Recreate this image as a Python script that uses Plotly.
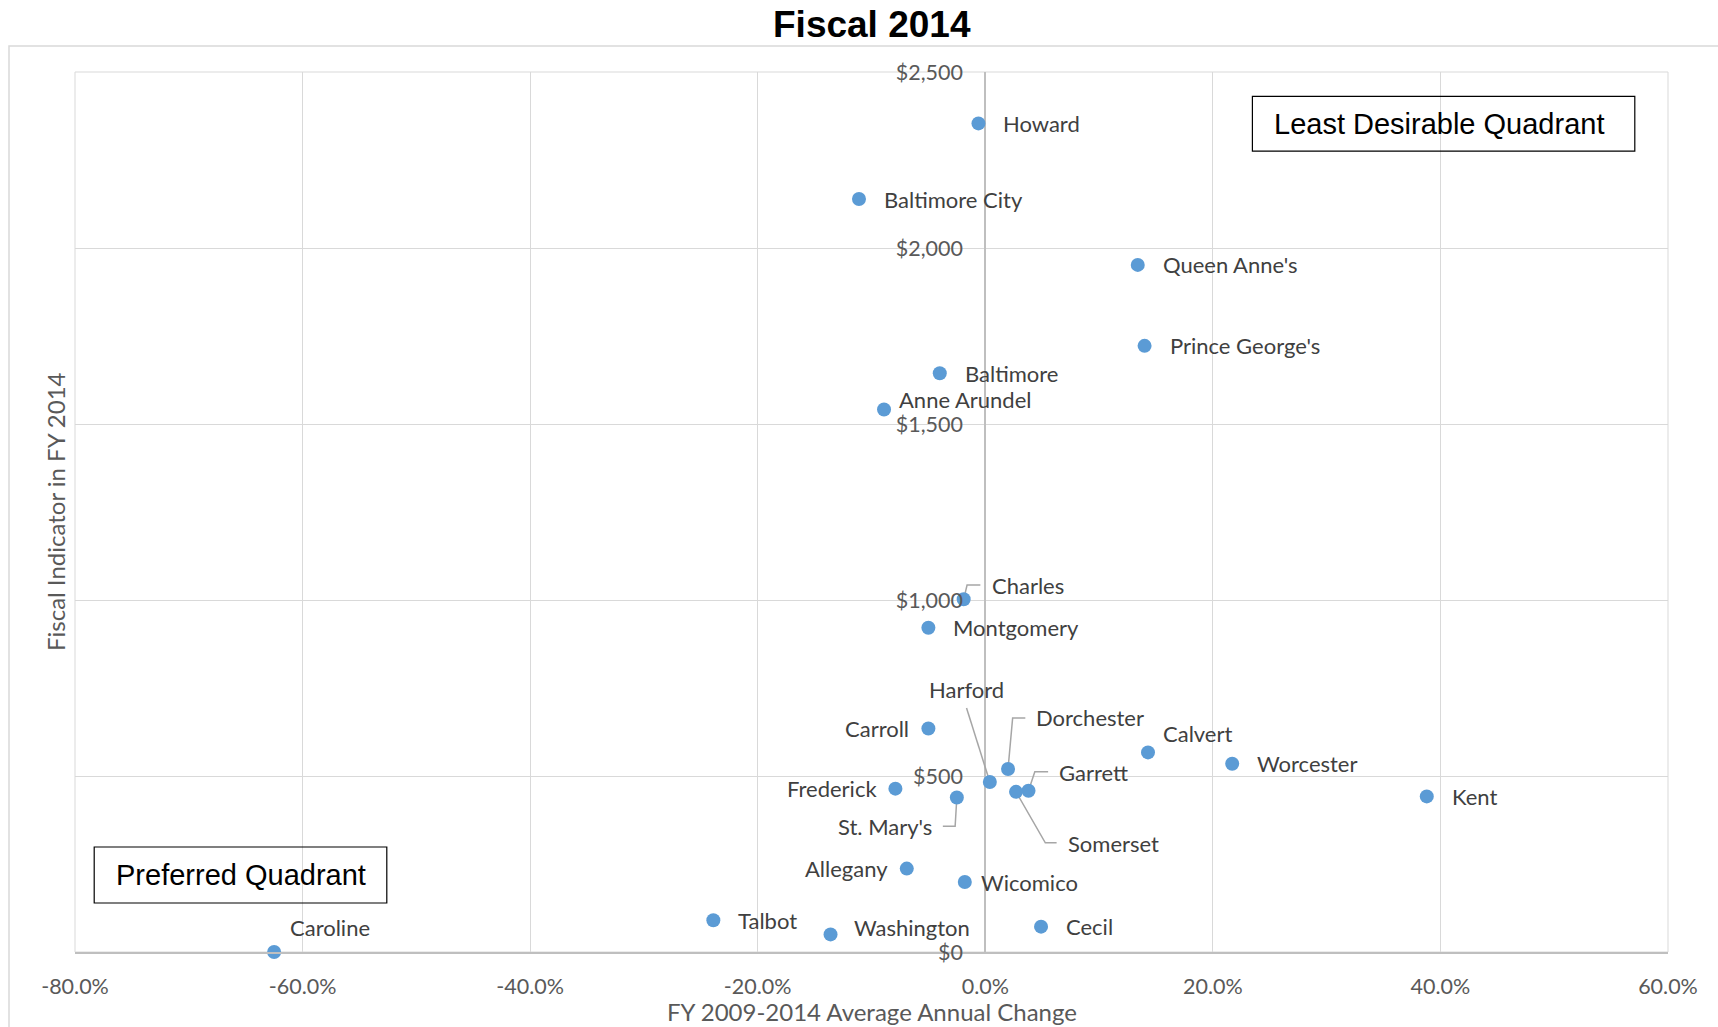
import plotly.graph_objects as go

# ---------------- data ----------------
counties = ["Howard", "Baltimore City", "Queen Anne's", "Prince George's", "Baltimore",
            "Anne Arundel", "Charles", "Montgomery", "Carroll", "Calvert", "Worcester",
            "Dorchester", "Harford", "Garrett", "Somerset", "Frederick", "St. Mary's",
            "Kent", "Allegany", "Wicomico", "Talbot", "Washington", "Cecil", "Caroline"]
avg_change = [-0.6, -11.1, 13.4, 14.0, -4.0, -8.9, -1.9, -5.0, -5.0, 14.3, 21.7,
              2.0, 0.4, 3.8, 2.7, -7.9, -2.5, 38.8, -6.9, -1.8, -23.9, -13.6, 4.9, -62.5]
indicator = [2354, 2139, 1952, 1722, 1644, 1541, 1002, 921, 635, 567, 535,
             520, 483, 458, 455, 464, 439, 442, 237, 199, 90, 50, 72, 0]

x_tickvals = [-80, -60, -40, -20, 0, 20, 40, 60]
x_ticktext = ["-80.0%", "-60.0%", "-40.0%", "-20.0%", "0.0%", "20.0%", "40.0%", "60.0%"]
y_tickvals = [0, 500, 1000, 1500, 2000, 2500]
y_ticktext = ["$0", "$500", "$1,000", "$1,500", "$2,000", "$2,500"]

# ---------------- layout geometry / styles ----------------
W, H = 1718, 1027
ML, MR, MT, MB = 75, 50, 72, 75
PW, PH = W - ML - MR, H - MT - MB
XR, YR = (-80, 60), (0, 2500)
sx = PW / (XR[1] - XR[0])   # px per %
sy = PH / (YR[1] - YR[0])   # px per $

FAM = "Lato, 'Open Sans', sans-serif"
LABEL_FONT = dict(family=FAM, size=22, color="#404040")
TICK_FONT = dict(family=FAM, size=21.5, color="#595959")
AXTITLE_FONT = dict(family=FAM, size=24, color="#595959")

# label placement: (xshift px, yshift px (up), xanchor)
default_place = (23, 0, "left")
place = {
    "Anne Arundel": (13, 10, "left"),
    "Carroll": (-17, 0, "right"),
    "Calvert": (13, 19, "left"),
    "Frederick": (-16, 0, "right"),
    "Allegany": (-17, 0, "right"),
    "Wicomico": (14, -1, "left"),
    "Washington": (21, 7, "left"),
    "Caroline": (14, 25, "left"),
    "Charles": (26, 14, "left"),
    "Dorchester": (26, 51, "left"),
    "Harford": (-23, 92, "center"),
    "Garrett": (28, 18, "left"),
    "Somerset": (50, -52, "left"),
    "St. Mary's": (-23, -29, "right"),
}
# leader line vertices in screen px offsets (x right, y down) from the point
leaders = {
    "Charles": [(3.4, -14.3), (16.7, -14.3)],
    "Dorchester": [(4.6, -51), (17.3, -51)],
    "Harford": [(-23.3, -74)],
    "Garrett": [(6.3, -19), (19.6, -19)],
    "Somerset": [(29.3, 51), (40.6, 51)],
    "St. Mary's": [(-1.7, 28.7), (-14, 28.7)],
}

fig = go.Figure()

# leader lines
lx, ly = [], []
for name, pts in leaders.items():
    i = counties.index(name)
    x0, y0 = avg_change[i], indicator[i]
    lx.append(x0); ly.append(y0)
    for dx, dy in pts:
        lx.append(x0 + dx / sx)
        ly.append(y0 - dy / sy)
    lx.append(None); ly.append(None)
fig.add_trace(go.Scatter(x=lx, y=ly, mode="lines", line=dict(color="#a6a6a6", width=1.5),
                         hoverinfo="skip", showlegend=False, cliponaxis=False))

fig.add_trace(go.Scatter(x=avg_change, y=indicator, mode="markers", text=counties,
                         marker=dict(size=14, color="#5b9bd5"),
                         showlegend=False, cliponaxis=False))

annotations = []
for name, xv, yv in zip(counties, avg_change, indicator):
    xs, ys, xa = place.get(name, default_place)
    annotations.append(dict(x=xv, y=yv, xref="x", yref="y", text=name, showarrow=False,
                            xshift=xs, yshift=ys, xanchor=xa, yanchor="middle",
                            font=LABEL_FONT))

def px_x(p):
    return (p - ML) / PW

def px_y(p):
    return (H - MB - p) / PH

# titles
annotations.append(dict(x=0.5, y=px_y(24), xref="paper", yref="paper", text="<b>Fiscal 2014</b>",
                        showarrow=False, xanchor="center", yanchor="middle",
                        font=dict(family="Liberation Sans, Arial, sans-serif", size=37, color="#000000")))
annotations.append(dict(x=0.5, y=px_y(1011), xref="paper", yref="paper",
                        text="FY 2009-2014 Average Annual Change", showarrow=False,
                        xanchor="center", yanchor="middle", font=AXTITLE_FONT))
annotations.append(dict(x=px_x(55), y=0.5, xref="paper", yref="paper",
                        text="Fiscal Indicator in FY 2014", showarrow=False, textangle=-90,
                        xanchor="center", yanchor="middle", font=AXTITLE_FONT))
# quadrant labels
QFONT = dict(family="Liberation Sans, Arial, sans-serif", size=29, color="#000000")
annotations.append(dict(x=px_x(1439), y=px_y(124), xref="paper", yref="paper",
                        text="Least Desirable Quadrant", showarrow=False,
                        xanchor="center", yanchor="middle", font=QFONT))
annotations.append(dict(x=px_x(240.5), y=px_y(874.5), xref="paper", yref="paper",
                        text="Preferred Quadrant", showarrow=False,
                        xanchor="center", yanchor="middle", font=QFONT))

shapes = [
    # outer chart border
    dict(type="rect", xref="paper", yref="paper", x0=px_x(9), x1=px_x(1730),
         y0=px_y(1040), y1=px_y(46), line=dict(color="#d9d9d9", width=1.5),
         fillcolor="rgba(0,0,0,0)", layer="below"),
    # plot area border
    dict(type="rect", xref="paper", yref="paper", x0=0, x1=1, y0=0, y1=1,
         line=dict(color="#d9d9d9", width=1), fillcolor="rgba(0,0,0,0)", layer="below"),
    # quadrant boxes
    dict(type="rect", xref="paper", yref="paper", x0=px_x(1252.4), x1=px_x(1634.8),
         y0=px_y(151.2), y1=px_y(96.4), line=dict(color="#000000", width=1.2),
         fillcolor="rgba(0,0,0,0)"),
    dict(type="rect", xref="paper", yref="paper", x0=px_x(94.2), x1=px_x(386.8),
         y0=px_y(903), y1=px_y(847), line=dict(color="#000000", width=1.2),
         fillcolor="rgba(0,0,0,0)"),
]

fig.update_layout(
    width=W, height=H,
    margin=dict(l=ML, r=MR, t=MT, b=MB, pad=0),
    plot_bgcolor="white", paper_bgcolor="white",
    annotations=annotations, shapes=shapes,
    xaxis=dict(range=list(XR), tickvals=x_tickvals, ticktext=x_ticktext,
               showgrid=True, gridcolor="#d9d9d9", gridwidth=1,
               zeroline=True, zerolinecolor="#bfbfbf", zerolinewidth=1.5,
               showline=True, linecolor="#bfbfbf", linewidth=1.5,
               ticks="outside", ticklen=14, tickcolor="rgba(0,0,0,0)",
               tickfont=TICK_FONT, fixedrange=True),
    yaxis=dict(range=list(YR), tickvals=y_tickvals, ticktext=y_ticktext,
               showgrid=True, gridcolor="#d9d9d9", gridwidth=1,
               zeroline=False, showline=False,
               anchor="free", position=(0 - XR[0]) / (XR[1] - XR[0]),
               ticks="outside", ticklen=18, tickcolor="rgba(0,0,0,0)",
               tickfont=TICK_FONT, fixedrange=True),
)

fig.write_html("out.html", config={"displayModeBar": False},
               post_script="document.body.style.margin='0';document.body.style.overflow='hidden';")
